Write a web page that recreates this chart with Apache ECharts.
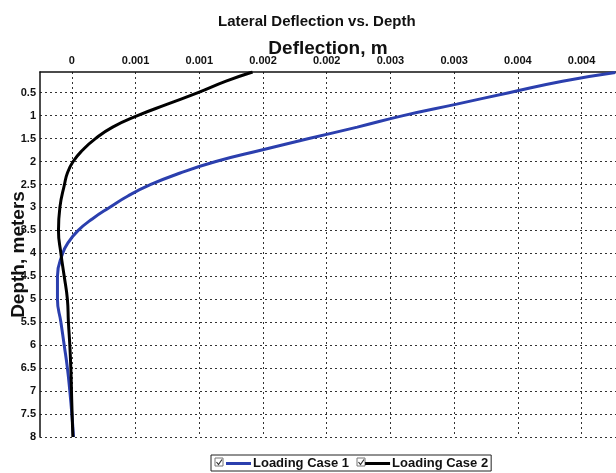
<!DOCTYPE html>
<html>
<head>
<meta charset="utf-8">
<script src="https://cdn.jsdelivr.net/npm/echarts@6/dist/echarts.min.js"></script>
<style>html,body{margin:0;padding:0;background:#fff}#c{width:616px;height:473px}</style>
</head>
<body>
<div id="c"></div>
<script>
// Depth (m) sample points
const depthCase1 = [0.06, 0.25, 0.5, 0.75, 1.0, 1.25, 1.5, 1.75, 2.0, 2.25, 2.5, 2.75, 3.0, 3.25, 3.5, 3.75, 4.0, 4.5, 5.0, 5.5, 6.0, 6.5, 7.0, 7.5, 8.0];
const deflCase1 = [0.004265, 0.00385, 0.00343, 0.00302, 0.00260, 0.00224, 0.00186, 0.00149, 0.00113, 0.00085, 0.00062, 0.00044, 0.000295, 0.00016, 0.00005, -0.000025, -0.000072, -0.000113, -0.000113, -0.000086, -0.00006, -0.000035, -0.000016, 0.0, 0.000013];
const depthCase2 = [0.05, 0.25, 0.5, 0.75, 1.0, 1.25, 1.5, 1.75, 2.0, 2.25, 2.5, 3.0, 3.5, 4.0, 4.5, 5.0, 5.5, 6.0, 6.5, 7.0, 7.5, 8.0];
const deflCase2 = [0.001418, 0.00121, 0.00099, 0.00075, 0.000515, 0.00032, 0.000185, 0.000085, 0.00001, -0.000035, -0.000058, -0.000094, -0.000105, -0.000086, -0.00006, -0.000035, -0.000027, -0.000016, -0.000008, -0.000003, 0.000002, 0.000008];
const xTickValues = [0, 0.0005, 0.001, 0.0015, 0.002, 0.0025, 0.003, 0.0035, 0.004];
const xTickLabels = ['0', '0.001', '0.001', '0.002', '0.002', '0.003', '0.003', '0.004', '0.004'];
const yTickValues = [0.5, 1, 1.5, 2, 2.5, 3, 3.5, 4, 4.5, 5, 5.5, 6, 6.5, 7, 7.5, 8];
const yTickLabels = ['0.5', '1', '1.5', '2', '2.5', '3', '3.5', '4', '4.5', '5', '5.5', '6', '6.5', '7', '7.5', '8'];
const seriesNames = ['Loading Case 1', 'Loading Case 2'];

const FONT = '"Liberation Sans", Arial, sans-serif';
const chart = echarts.init(document.getElementById('c'), null, {renderer: 'canvas'});
const pairs = (xs, ys) => xs.map((x, i) => [x, ys[i]]);
const gridLine = {show: true, lineStyle: {color: '#333', type: [2, 3], width: 1}};

function checkbox(x, y) {
  return {
    type: 'group', x: x, y: y, silent: true,
    children: [
      {type: 'rect', shape: {x: 0, y: 0, width: 8, height: 8}, style: {fill: '#fff', stroke: '#777', lineWidth: 1}},
      {type: 'polyline', shape: {points: [[1.5, 4], [3.5, 6.5], [7, 1.5]]}, style: {stroke: '#333', lineWidth: 1.2, fill: null}}
    ]
  };
}

chart.setOption({
  animation: false,
  backgroundColor: '#fff',
  title: {
    text: 'Lateral Deflection vs. Depth',
    left: 218, top: 14, padding: 0,
    textStyle: {fontFamily: FONT, fontSize: 15, fontWeight: 'bold', color: '#111'}
  },
  grid: {left: 40, right: 0, top: 72, bottom: 36, containLabel: false, outerBoundsMode: 'none'},
  xAxis: {
    type: 'value', position: 'top',
    min: -0.00025, max: 0.00427,
    name: 'Deflection, m', nameLocation: 'middle', nameGap: 14,
    nameMoveOverlap: false,
    nameTextStyle: {fontFamily: FONT, fontSize: 19, fontWeight: 'bold', color: '#111'},
    axisLine: {show: true, onZero: false, lineStyle: {color: '#111', width: 1.5}},
    axisTick: {show: false, customValues: xTickValues},
    axisLabel: {
      customValues: xTickValues, margin: 6,
      fontFamily: FONT, fontSize: 11, fontWeight: 'bold', color: '#111',
      formatter: v => xTickLabels[Math.round(v / 0.0005)]
    },
    splitLine: gridLine
  },
  yAxis: {
    type: 'value', inverse: true,
    min: 0.05, max: 8,
    name: 'Depth, meters', nameLocation: 'middle', nameGap: 12,
    nameMoveOverlap: false,
    nameTextStyle: {fontFamily: FONT, fontSize: 19, fontWeight: 'bold', color: '#111'},
    axisLine: {show: true, onZero: false, lineStyle: {color: '#111', width: 1.5}},
    axisTick: {show: false, customValues: yTickValues},
    axisLabel: {
      customValues: yTickValues, margin: 4,
      fontFamily: FONT, fontSize: 11, fontWeight: 'bold', color: '#111',
      formatter: v => yTickLabels[Math.round(v / 0.5) - 1]
    },
    splitLine: gridLine
  },
  legend: {
    bottom: 2, left: 211,
    data: seriesNames,
    itemWidth: 25, itemHeight: 3, itemGap: 16,
    icon: 'rect',
    borderColor: '#222', borderWidth: 1, padding: [2, 3, 1, 15],
    textStyle: {fontFamily: FONT, fontSize: 13, fontWeight: 'bold', color: '#111', padding: [0, 0, 0, -3]},
    selectedMode: false
  },
  graphic: [checkbox(215, 458), checkbox(357, 458)],
  series: [
    {
      name: seriesNames[0], type: 'line', smooth: 0.5, showSymbol: false,
      data: pairs(deflCase1, depthCase1),
      lineStyle: {color: '#2b3fae', width: 3}, itemStyle: {color: '#2b3fae'}
    },
    {
      name: seriesNames[1], type: 'line', smooth: 0.5, showSymbol: false,
      data: pairs(deflCase2, depthCase2),
      lineStyle: {color: '#000', width: 3}, itemStyle: {color: '#000'}
    }
  ]
});
</script>
</body>
</html>
